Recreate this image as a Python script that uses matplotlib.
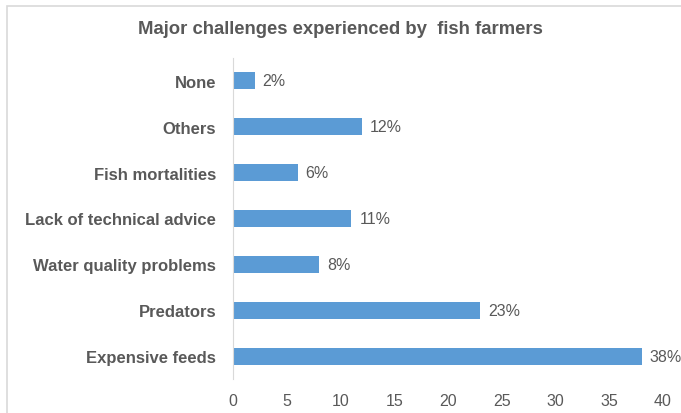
import matplotlib.pyplot as plt
from matplotlib.patches import Rectangle

plt.rcParams['font.family'] = ['Liberation Sans', 'DejaVu Sans']

# Data
challenges = ["Expensive feeds", "Predators", "Water quality problems",
              "Lack of technical advice", "Fish mortalities", "Others", "None"]
percent = [38, 23, 8, 11, 6, 12, 2]

text_color = '#595959'
bar_color = '#5B9BD5'

fig = plt.figure(figsize=(6.81, 4.14), dpi=100)
ax = fig.add_axes([233 / 681, 1 - 380 / 414, (663 - 233) / 681, (380 - 59) / 414])

# outer chart frame (right and bottom fall outside the picture)
fig.patches.append(Rectangle((7 / 681, -0.1), 1.2, 1.1 - 7 / 414,
                             transform=fig.transFigure, fill=False,
                             edgecolor='#d9d9d9', linewidth=1.2))

bars = ax.barh(challenges, percent, height=0.37, color=bar_color)
for b, v in zip(bars, percent):
    ax.text(b.get_width() + 0.75, b.get_y() + b.get_height() / 2, f"{v}%",
            va='center', ha='left', fontsize=11.5, color=text_color, clip_on=False)

ax.set_xlim(0, 40)
ax.set_ylim(-0.5, len(challenges) - 0.5)
ax.set_xticks(range(0, 41, 5))
ax.tick_params(axis='both', length=0, colors=text_color)
ax.tick_params(axis='x', labelsize=11.5, pad=10)
ax.tick_params(axis='y', pad=12)
for lbl in ax.get_yticklabels():
    lbl.set_fontweight('bold')
    lbl.set_fontsize(12)
for s in ['top', 'right', 'bottom']:
    ax.spines[s].set_visible(False)
ax.spines['left'].set_color('#d9d9d9')

fig.text(0.5, 1 - 30 / 414, "Major challenges experienced by  fish farmers",
         ha='center', va='center', fontsize=13.3, fontweight='bold', color=text_color)

fig.savefig('out.png', dpi=100)
